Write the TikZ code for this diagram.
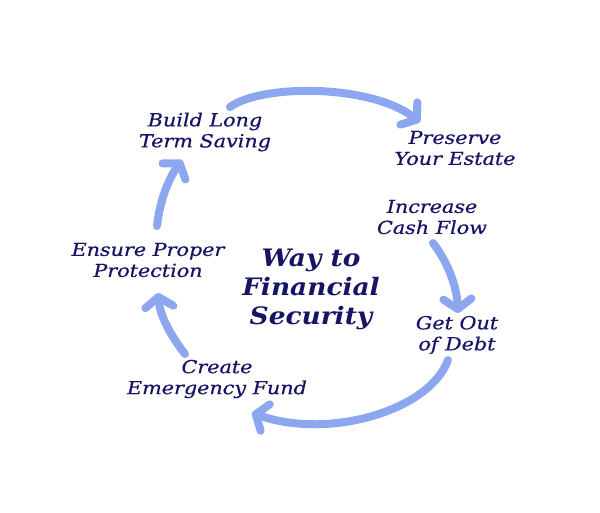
\documentclass[tikz,border=0pt]{standalone}
\usepackage{fontspec}
\setmainfont{DejaVu Serif}
\newfontfamily\handfont[FakeStretch=1.15,FakeBold=0.6]{DejaVu Serif}
\newfontfamily\titlefont[FakeStretch=1.1]{DejaVu Serif}
\usetikzlibrary{arrows.meta}
\definecolor{ink}{RGB}{22,20,100}
\definecolor{arr}{RGB}{140,166,240}
\tikzset{
  lbl/.style={font=\handfont\fontsize{18}{21}\selectfont\itshape, text=ink, align=center, inner sep=0pt},
  ttl/.style={font=\titlefont\fontsize{24}{29}\selectfont\itshape\bfseries, text=ink, align=center, inner sep=0pt},
  flow/.style={draw=arr, line width=8pt, line cap=round,
    -{Straight Barb[length=10pt,width=28pt,round]}}
}
\begin{document}
\begin{tikzpicture}[x=1pt,y=-1pt]
\useasboundingbox[fill=white] (0,0) rectangle (600,512);
\node[ttl] (t) at (311,289) {Way to\\Financial\\Security};
\node[lbl] (b) at (205,132) {Build Long\\Term Saving};
\node[lbl] (p) at (455,148) {Preserve\\Your Estate};
\node[lbl] (i) at (432,217) {Increase\\Cash Flow};
\node[lbl] (g) at (457,335) {Get Out\\of Debt};
\node[lbl] (c) at (217,379) {Create\\Emergency Fund};
\node[lbl] (e) at (148,260) {Ensure Proper\\Protection};
\coordinate (b1) at (230,107); \coordinate (p1) at (420,122);
\coordinate (i1) at (433,243); \coordinate (g1) at (458,313);
\coordinate (g2) at (448,360); \coordinate (c1) at (252,413);
\coordinate (c2) at (185,354); \coordinate (e1) at (158,293);
\coordinate (e2) at (157,226); \coordinate (b2) at (182,160);
\draw[flow] (b1) .. controls (262,84) and (370,84) .. (p1);
\draw[flow] (i1) .. controls (450,265) and (457,290) .. (g1);
\draw[flow] (g2) .. controls (430,410) and (330,440) .. (c1);
\draw[flow] (c2) .. controls (170,335) and (160,315) .. (e1);
\draw[flow] (e2) .. controls (160,200) and (168,180) .. (b2);
\end{tikzpicture}
\end{document}
